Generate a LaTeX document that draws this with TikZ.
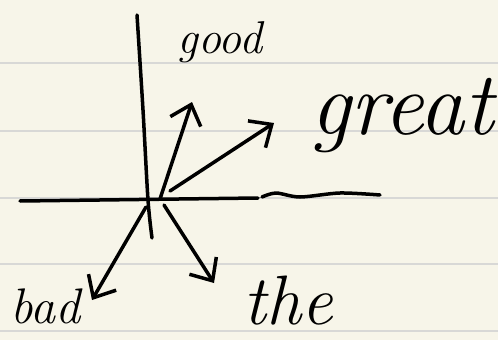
\documentclass[tikz,border=0pt]{standalone}
\usepackage{xcolor}
\usepackage{tikz}
\usetikzlibrary{arrows.meta, positioning}

\definecolor{paper}{HTML}{F7F5E9}
\definecolor{rule}{HTML}{D8D8D6}

\tikzset{
  ink/.style={line width=3.5pt, line cap=round, line join=round, black},
  vec/.style={ink, -{Straight Barb[length=18pt, width=32pt, line width=3.5pt]}},
  word/.style={inner sep=0pt, font=\itshape}
}

\begin{document}
\begin{tikzpicture}[x=1pt, y=-1pt]
          % paper with ruled lines
          \fill[paper] (0,0) rectangle (498,340);
          \useasboundingbox (0,0) rectangle (498,340);
          \foreach \y in {63,131,198,264,331}
            \draw[rule, line width=2pt] (0,\y) -- (498,\y);

          % axes
          \draw[ink] plot[smooth] coordinates {(137,15) (143,110) (148,200) (152,238)};
          \draw[ink] (20,201) -- (258,198);
          \draw[ink] plot[smooth] coordinates {(262,197) (276,193) (300,197) (340,193) (380,195)};

          % vector start and end points
          \coordinate (goodfrom) at (160,199);
          \coordinate (goodto) at (192,102);
          \coordinate (greatfrom) at (170,191);
          \coordinate (greatto) at (274,123);
          \coordinate (badfrom) at (146,207);
          \coordinate (badto) at (92,300);
          \coordinate (thefrom) at (164,205);
          \coordinate (theto) at (214,283);

          \draw[vec] (goodfrom) -- (goodto);
          \draw[vec] (greatfrom) -- (greatto);
          \draw[vec] (badfrom) -- (badto);
          \draw[vec] (thefrom) -- (theto);

          % labels
          \node[word, font=\itshape\fontsize{46}{50}\selectfont] (good) at (220,42) {good};
          \node[word, font=\itshape\fontsize{90}{94}\selectfont] (great) at (402,116) {great};
          \node[word, font=\itshape\fontsize{50}{54}\selectfont] (bad) at (45,306) {bad};
          \node[word, font=\itshape\fontsize{70}{74}\selectfont] (the) at (288,301) {the};
        \end{tikzpicture}
\end{document}
